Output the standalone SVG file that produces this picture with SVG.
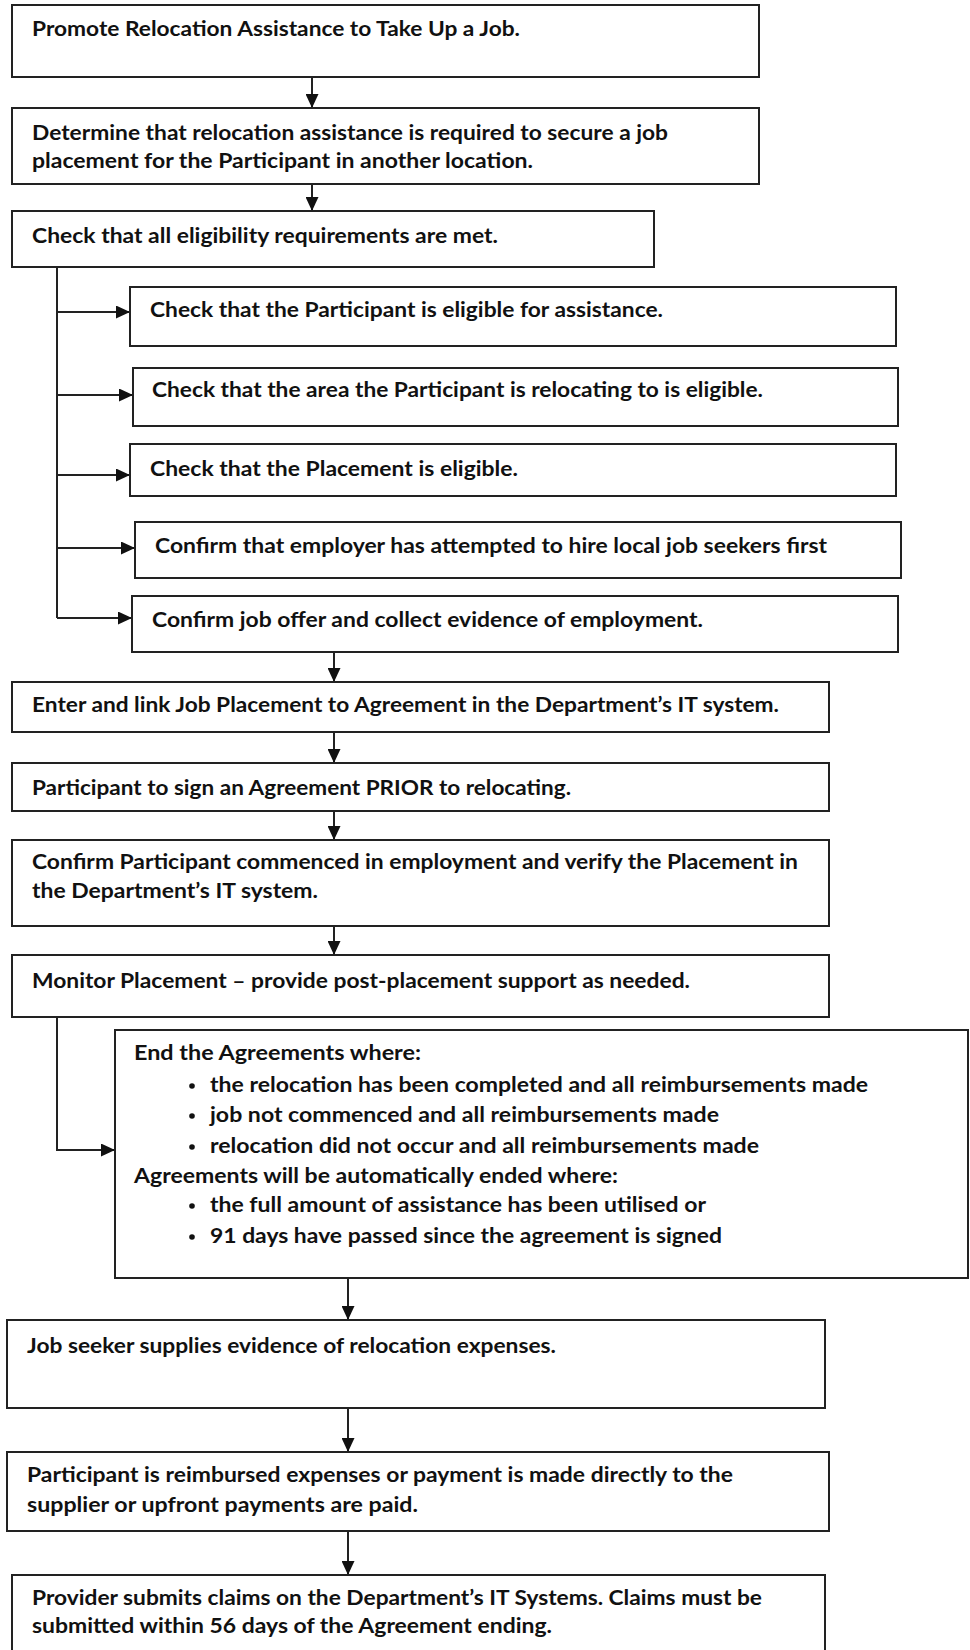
<svg xmlns="http://www.w3.org/2000/svg" width="970" height="1650" viewBox="0 0 970 1650">
<style>
.box{fill:#fff;stroke:#222;stroke-width:2}
.t{font-family:Lato,"Liberation Sans",sans-serif;font-weight:bold;font-size:20px;fill:#111}
.c{fill:none;stroke:#222;stroke-width:2}
.b{fill:#111}
</style>
<defs>
<marker id="ah" markerUnits="userSpaceOnUse" markerWidth="14" markerHeight="13" refX="14" refY="6.5" orient="auto">
<path d="M0,0 L14,6.5 L0,13 z" fill="#111"/>
</marker>
</defs>
<rect width="970" height="1650" fill="#fff"/>
<g id="connectors">
<path class="c" d="M312,77 V108" marker-end="url(#ah)"/>
<path class="c" d="M312,184 V211" marker-end="url(#ah)"/>
<path class="c" d="M57,267 V618"/>
<path class="c" d="M57,312 H130" marker-end="url(#ah)"/>
<path class="c" d="M57,395 H133" marker-end="url(#ah)"/>
<path class="c" d="M57,475 H130" marker-end="url(#ah)"/>
<path class="c" d="M57,548 H135" marker-end="url(#ah)"/>
<path class="c" d="M57,618 H132" marker-end="url(#ah)"/>
<path class="c" d="M334,652 V682" marker-end="url(#ah)"/>
<path class="c" d="M334,732 V763" marker-end="url(#ah)"/>
<path class="c" d="M334,811 V840" marker-end="url(#ah)"/>
<path class="c" d="M334,926 V955" marker-end="url(#ah)"/>
<path class="c" d="M57,1017 V1150 H115" marker-end="url(#ah)"/>
<path class="c" d="M348,1278 V1320" marker-end="url(#ah)"/>
<path class="c" d="M348,1408 V1452" marker-end="url(#ah)"/>
<path class="c" d="M348,1531 V1575" marker-end="url(#ah)"/>
</g>
<g id="n1"><rect class="box" x="12" y="5" width="747" height="72"/>
<text class="t" x="32" y="36" textLength="488" lengthAdjust="spacingAndGlyphs">Promote Relocation Assistance to Take Up a Job.</text></g>
<g id="n2"><rect class="box" x="12" y="108" width="747" height="76"/>
<text class="t" x="32" y="140" textLength="636" lengthAdjust="spacingAndGlyphs">Determine that relocation assistance is required to secure a job</text>
<text class="t" x="32" y="168" textLength="501" lengthAdjust="spacingAndGlyphs">placement for the Participant in another location.</text></g>
<g id="n3"><rect class="box" x="12" y="211" width="642" height="56"/>
<text class="t" x="32" y="243" textLength="466" lengthAdjust="spacingAndGlyphs">Check that all eligibility requirements are met.</text></g>
<g id="c1"><rect class="box" x="130" y="287" width="766" height="59"/>
<text class="t" x="150" y="317" textLength="513" lengthAdjust="spacingAndGlyphs">Check that the Participant is eligible for assistance.</text></g>
<g id="c2"><rect class="box" x="133" y="368" width="765" height="58"/>
<text class="t" x="152" y="397" textLength="611" lengthAdjust="spacingAndGlyphs">Check that the area the Participant is relocating to is eligible.</text></g>
<g id="c3"><rect class="box" x="130" y="444" width="766" height="52"/>
<text class="t" x="150" y="476" textLength="368" lengthAdjust="spacingAndGlyphs">Check that the Placement is eligible.</text></g>
<g id="c4"><rect class="box" x="135" y="522" width="766" height="56"/>
<text class="t" x="155" y="553" textLength="672" lengthAdjust="spacingAndGlyphs">Confirm that employer has attempted to hire local job seekers first</text></g>
<g id="c5"><rect class="box" x="132" y="596" width="766" height="56"/>
<text class="t" x="152" y="627" textLength="551" lengthAdjust="spacingAndGlyphs">Confirm job offer and collect evidence of employment.</text></g>
<g id="n4"><rect class="box" x="12" y="682" width="817" height="50"/>
<text class="t" x="32" y="712" textLength="747" lengthAdjust="spacingAndGlyphs">Enter and link Job Placement to Agreement in the Department’s IT system.</text></g>
<g id="n5"><rect class="box" x="12" y="763" width="817" height="48"/>
<text class="t" x="32" y="795" textLength="539" lengthAdjust="spacingAndGlyphs">Participant to sign an Agreement PRIOR to relocating.</text></g>
<g id="n6"><rect class="box" x="12" y="840" width="817" height="86"/>
<text class="t" x="32" y="869" textLength="766" lengthAdjust="spacingAndGlyphs">Confirm Participant commenced in employment and verify the Placement in</text>
<text class="t" x="32" y="898" textLength="286" lengthAdjust="spacingAndGlyphs">the Department’s IT system.</text></g>
<g id="n7"><rect class="box" x="12" y="955" width="817" height="62"/>
<text class="t" x="32" y="988" textLength="658" lengthAdjust="spacingAndGlyphs">Monitor Placement – provide post-placement support as needed.</text></g>
<g id="n8"><rect class="box" x="115" y="1030" width="853" height="248"/>
<text class="t" x="134" y="1060" textLength="287" lengthAdjust="spacingAndGlyphs">End the Agreements where:</text>
<circle class="b" cx="192" cy="1086" r="2.8"/>
<text class="t" x="210" y="1092" textLength="658" lengthAdjust="spacingAndGlyphs">the relocation has been completed and all reimbursements made</text>
<circle class="b" cx="192" cy="1116" r="2.8"/>
<text class="t" x="210" y="1122" textLength="509" lengthAdjust="spacingAndGlyphs">job not commenced and all reimbursements made</text>
<circle class="b" cx="192" cy="1147" r="2.8"/>
<text class="t" x="210" y="1153" textLength="549" lengthAdjust="spacingAndGlyphs">relocation did not occur and all reimbursements made</text>
<text class="t" x="134" y="1183" textLength="484" lengthAdjust="spacingAndGlyphs">Agreements will be automatically ended where:</text>
<circle class="b" cx="192" cy="1206" r="2.8"/>
<text class="t" x="210" y="1212" textLength="496" lengthAdjust="spacingAndGlyphs">the full amount of assistance has been utilised or</text>
<circle class="b" cx="192" cy="1237" r="2.8"/>
<text class="t" x="210" y="1243" textLength="512" lengthAdjust="spacingAndGlyphs">91 days have passed since the agreement is signed</text></g>
<g id="n9"><rect class="box" x="7" y="1320" width="818" height="88"/>
<text class="t" x="27" y="1353" textLength="529" lengthAdjust="spacingAndGlyphs">Job seeker supplies evidence of relocation expenses.</text></g>
<g id="n10"><rect class="box" x="7" y="1452" width="822" height="79"/>
<text class="t" x="27" y="1482" textLength="706" lengthAdjust="spacingAndGlyphs">Participant is reimbursed expenses or payment is made directly to the</text>
<text class="t" x="27" y="1512" textLength="391" lengthAdjust="spacingAndGlyphs">supplier or upfront payments are paid.</text></g>
<g id="n11"><rect class="box" x="12" y="1575" width="813" height="90"/>
<text class="t" x="32" y="1605" textLength="730" lengthAdjust="spacingAndGlyphs">Provider submits claims on the Department’s IT Systems. Claims must be</text>
<text class="t" x="32" y="1633" textLength="520" lengthAdjust="spacingAndGlyphs">submitted within 56 days of the Agreement ending.</text></g>
</svg>
